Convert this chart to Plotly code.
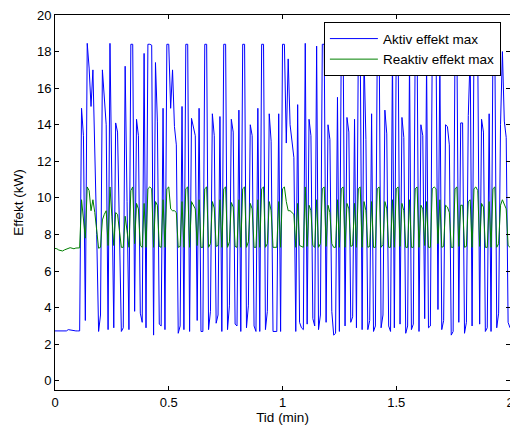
import plotly.graph_objects as go

# Sampling step of the logged signals (0.5 s expressed in minutes)
sample_step_min = 0.5 / 60

# Aktiv effekt max (kW), one value per 0.5 s sample
aktiv_effekt_max = [
    2.73, 2.73, 2.73, 2.73, 2.73, 2.73, 2.73, 2.80, 2.78, 2.73,
    2.73, 2.73, 2.73, 2.73, 14.9, 13.4, 3.3, 18.45, 17.1, 15.0,
    17.0, 13.2, 8.0, 2.7, 3.6, 17.0, 15.5, 14.0, 2.8, 18.45,
    10.6, 2.9, 14.1, 13.6, 8.2, 2.7, 2.9, 17.2, 9.8, 2.8,
    18.4, 18.4, 3.8, 14.3, 13.4, 3.7, 3.2, 17.9, 2.9, 18.4,
    18.4, 18.35, 2.5, 17.4, 14.2, 3.1, 3.0, 14.9, 2.8, 18.4,
    18.4, 14.9, 17.0, 13.9, 12.9, 2.6, 3.0, 15.0, 2.8, 18.4,
    18.4, 2.7, 14.35, 13.9, 13.4, 3.3, 14.9, 2.7, 2.7, 18.4,
    18.4, 2.8, 3.8, 14.6, 13.4, 3.15, 3.6, 14.45, 2.7, 18.4,
    18.4, 2.8, 4.1, 14.3, 13.6, 3.1, 3.0, 14.8, 2.7, 18.4,
    18.4, 2.9, 4.1, 14.0, 13.4, 3.0, 2.7, 14.9, 2.7, 18.4,
    18.4, 2.8, 3.8, 14.6, 13.1, 2.7, 2.7, 2.7, 14.6, 2.7,
    18.4, 18.4, 13.0, 17.6, 14.0, 13.0, 12.2, 2.7, 15.1, 3.2,
    2.9, 2.8, 18.45, 3.1, 14.3, 13.4, 3.4, 3.0, 18.3, 2.8,
    3.6, 18.4, 18.4, 3.2, 14.0, 13.2, 3.8, 2.5, 2.6, 15.5,
    2.7, 18.4, 18.4, 3.0, 14.4, 13.6, 3.2, 3.5, 14.3, 2.9,
    18.4, 18.4, 2.8, 17.8, 13.2, 2.8, 3.3, 14.6, 2.7, 3.0,
    18.4, 18.4, 2.9, 3.6, 14.8, 13.5, 3.0, 2.7, 17.9, 2.9,
    18.4, 18.4, 3.1, 14.4, 13.3, 2.6, 3.0, 17.6, 2.8, 3.1,
    18.4, 18.4, 2.7, 14.0, 13.4, 3.4, 17.5, 2.9, 3.0, 18.4,
    18.4, 18.3, 3.9, 17.6, 2.8, 3.3, 14.0, 13.9, 12.9, 2.5,
    2.7, 18.4, 18.4, 3.2, 14.1, 14.1, 2.6, 3.2, 14.5, 17.9,
    3.0, 18.4, 18.4, 17.9, 3.1, 14.3, 13.6, 2.7, 2.9, 14.6,
    2.7, 18.4, 18.4, 2.9, 3.7, 14.0, 18.0, 14.2, 13.3, 3.2,
    2.9,
]

# Reaktiv effekt max, one value per 0.5 s sample
reaktiv_effekt_max = [
    7.24, 7.22, 7.15, 7.12, 7.1, 7.16, 7.2, 7.25, 7.28, 7.25,
    7.22, 7.26, 7.25, 7.27, 9.9, 9.0, 7.8, 10.6, 10.4, 9.3,
    9.9, 9.2, 8.2, 7.25, 7.3, 8.8, 9.1, 9.3, 7.4, 10.6,
    9.0, 7.4, 9.2, 9.1, 8.2, 7.3, 7.3, 9.0, 8.2, 7.3,
    10.4, 10.6, 7.5, 9.7, 9.4, 7.4, 7.3, 9.7, 7.3, 10.5,
    10.6, 10.5, 7.3, 9.8, 9.6, 7.35, 7.3, 9.9, 7.3, 10.5,
    10.6, 9.4, 9.3, 9.3, 9.2, 7.3, 7.35, 9.8, 7.3, 10.5,
    10.6, 7.3, 9.8, 9.6, 9.4, 7.4, 9.9, 7.3, 7.3, 10.5,
    10.6, 7.3, 7.5, 9.8, 9.45, 7.35, 7.4, 9.9, 7.3, 10.5,
    10.6, 7.3, 7.6, 9.75, 9.5, 7.35, 7.3, 9.9, 7.3, 10.5,
    10.6, 7.3, 7.6, 9.7, 9.4, 7.3, 7.3, 9.9, 7.3, 10.5,
    10.6, 7.3, 7.5, 9.8, 9.3, 7.3, 7.3, 7.3, 9.8, 7.3,
    10.5, 10.6, 9.8, 9.3, 9.3, 9.2, 9.1, 7.3, 9.7, 7.4,
    7.35, 7.3, 10.6, 7.35, 9.6, 9.3, 7.4, 7.3, 9.9, 7.3,
    7.5, 10.5, 10.6, 7.35, 9.6, 9.2, 7.5, 7.3, 7.3, 9.9,
    7.3, 10.5, 10.6, 7.3, 9.7, 9.4, 7.35, 7.4, 9.7, 7.3,
    10.5, 10.6, 7.3, 9.8, 9.3, 7.3, 7.35, 9.8, 7.3, 7.3,
    10.5, 10.6, 7.3, 7.45, 9.8, 9.4, 7.3, 7.3, 9.9, 7.3,
    10.5, 10.6, 7.35, 9.7, 9.3, 7.3, 7.3, 9.9, 7.3, 7.3,
    10.5, 10.6, 7.3, 9.6, 9.4, 7.4, 9.8, 7.3, 7.3, 10.5,
    10.6, 10.5, 7.5, 9.9, 7.3, 7.35, 9.6, 9.5, 9.2, 7.3,
    7.3, 10.5, 10.6, 7.35, 9.6, 9.6, 7.3, 7.35, 9.8, 9.9,
    7.3, 10.5, 10.6, 10.4, 7.35, 9.7, 9.5, 7.3, 7.3, 9.8,
    7.3, 10.5, 10.6, 7.3, 7.5, 9.6, 9.9, 9.6, 9.4, 7.4,
    7.3,
]

x_tick_values = [0, 0.5, 1, 1.5, 2]
x_tick_text = ["0", "0.5", "1", "1.5", "2"]
y_tick_values = [0, 2, 4, 6, 8, 10, 12, 14, 16, 18, 20]

FONT = "Liberation Sans, Arial, sans-serif"

fig = go.Figure()
fig.add_trace(go.Scatter(
    x0=0, dx=sample_step_min, y=aktiv_effekt_max, mode="lines",
    name="Aktiv effekt max", line=dict(color="#0000ff", width=1),
))
fig.add_trace(go.Scatter(
    x0=0, dx=sample_step_min, y=reaktiv_effekt_max, mode="lines",
    name="Reaktiv effekt max", line=dict(color="#008000", width=1),
))

axis_common = dict(
    showgrid=False, zeroline=False, showline=True, linecolor="#000000",
    linewidth=1, mirror="ticks", ticks="inside", ticklen=4, tickwidth=1,
    tickcolor="#000000", tickfont=dict(family=FONT, size=13, color="#000000"),
    automargin=False,
)

fig.update_xaxes(range=[0, 2], tickvals=x_tick_values, ticktext=x_tick_text,
                 ticklabeloverflow="allow",
                 title=dict(text="Tid (min)", font=dict(family=FONT, size=13.5, color="#000000"), standoff=2),
                 **axis_common)
fig.update_yaxes(range=[-0.5, 20], tickvals=y_tick_values,
                 title=dict(text="Effekt (kW)", font=dict(family=FONT, size=13.5, color="#000000"), standoff=10),
                 **axis_common)

fig.update_layout(
    width=510, height=430,
    margin=dict(l=55, r=0, t=15, b=40, autoexpand=False),
    plot_bgcolor="#ffffff", paper_bgcolor="#ffffff",
    font=dict(family=FONT, size=13, color="#000000"),
    showlegend=True,
    legend=dict(
        x=0.591, y=0.9805, xanchor="left", yanchor="top",
        bgcolor="#ffffff", bordercolor="#000000", borderwidth=1,
        font=dict(family=FONT, size=13.5, color="#000000"),
        itemwidth=48, tracegroupgap=0,
    ),
)

fig.write_html("out.html")
